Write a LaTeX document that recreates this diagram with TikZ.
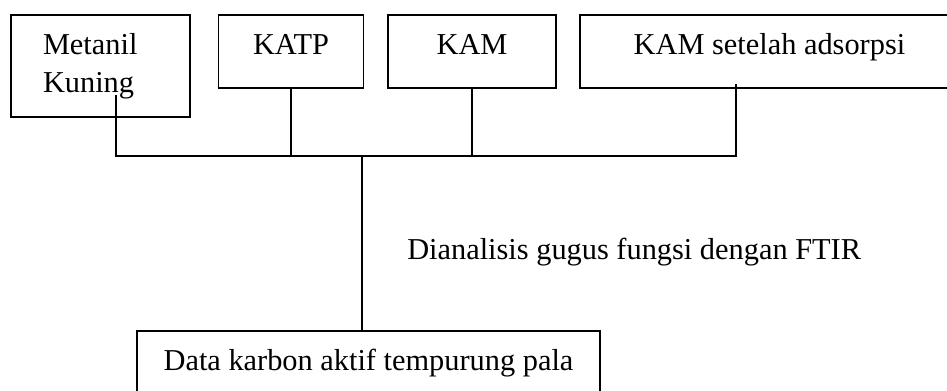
\documentclass[tikz,border=0pt]{standalone}
\usepackage{fontspec}
\setmainfont{Liberation Serif}
\usetikzlibrary{calc}
\tikzset{
    kotak/.style={draw,line width=1.4pt,inner sep=0pt,minimum height=1.825cm},
    baris/.style={text height=0.7em,text depth=0.3em},
    garis/.style={line width=1.4pt},
  }

\begin{document}
\begin{tikzpicture}[every node/.style={font=\fontsize{21.6}{27}\selectfont}]
          %BINGKAI
          \useasboundingbox (0,0) rectangle (23.675,9.75);
          \clip (0,0) rectangle (23.675,9.75);

          %KOTAK ATAS
          \node[kotak,minimum height=2.55cm,text width=2.875cm,inner xsep=0.8cm,align=left](mk) at (2.5125,8.1) {Metanil\\Kuning};
          \node[kotak,baris,minimum width=3.625cm](katp) at (7.275,8.4625) {KATP};
          \node[kotak,baris,minimum width=4.2cm](kam) at (11.8,8.4625) {KAM};
          \node[kotak,baris,minimum width=9.475cm](kams) at (19.2375,8.4625) {KAM setelah adsorpsi};

          %KOTAK BAWAH
          \node[kotak,baris,minimum width=11.575cm](data) at (9.2125,0.5625) {Data karbon aktif tempurung pala};

          %GARIS
          \coordinate (a1) at (2.9,7.375);
          \coordinate (b1) at (2.9,5.84);
          \coordinate (b4) at (18.4,5.84);
          \coordinate (a4) at (18.4,7.65);
          \coordinate (p) at (9.05,5.84);
          \draw[garis] (a1) -- (b1) -- (b4) -- (a4);
          \draw[garis] (katp.south) -- (katp.south |- b1);
          \draw[garis] (kam.south) -- (kam.south |- b1);
          \draw[garis] (p) -- (p |- data.north);

          %KETERANGAN
          \node[anchor=base west,inner sep=0pt](ftir) at (10.175,3.275) {Dianalisis gugus fungsi dengan FTIR};
\end{tikzpicture}
\end{document}
